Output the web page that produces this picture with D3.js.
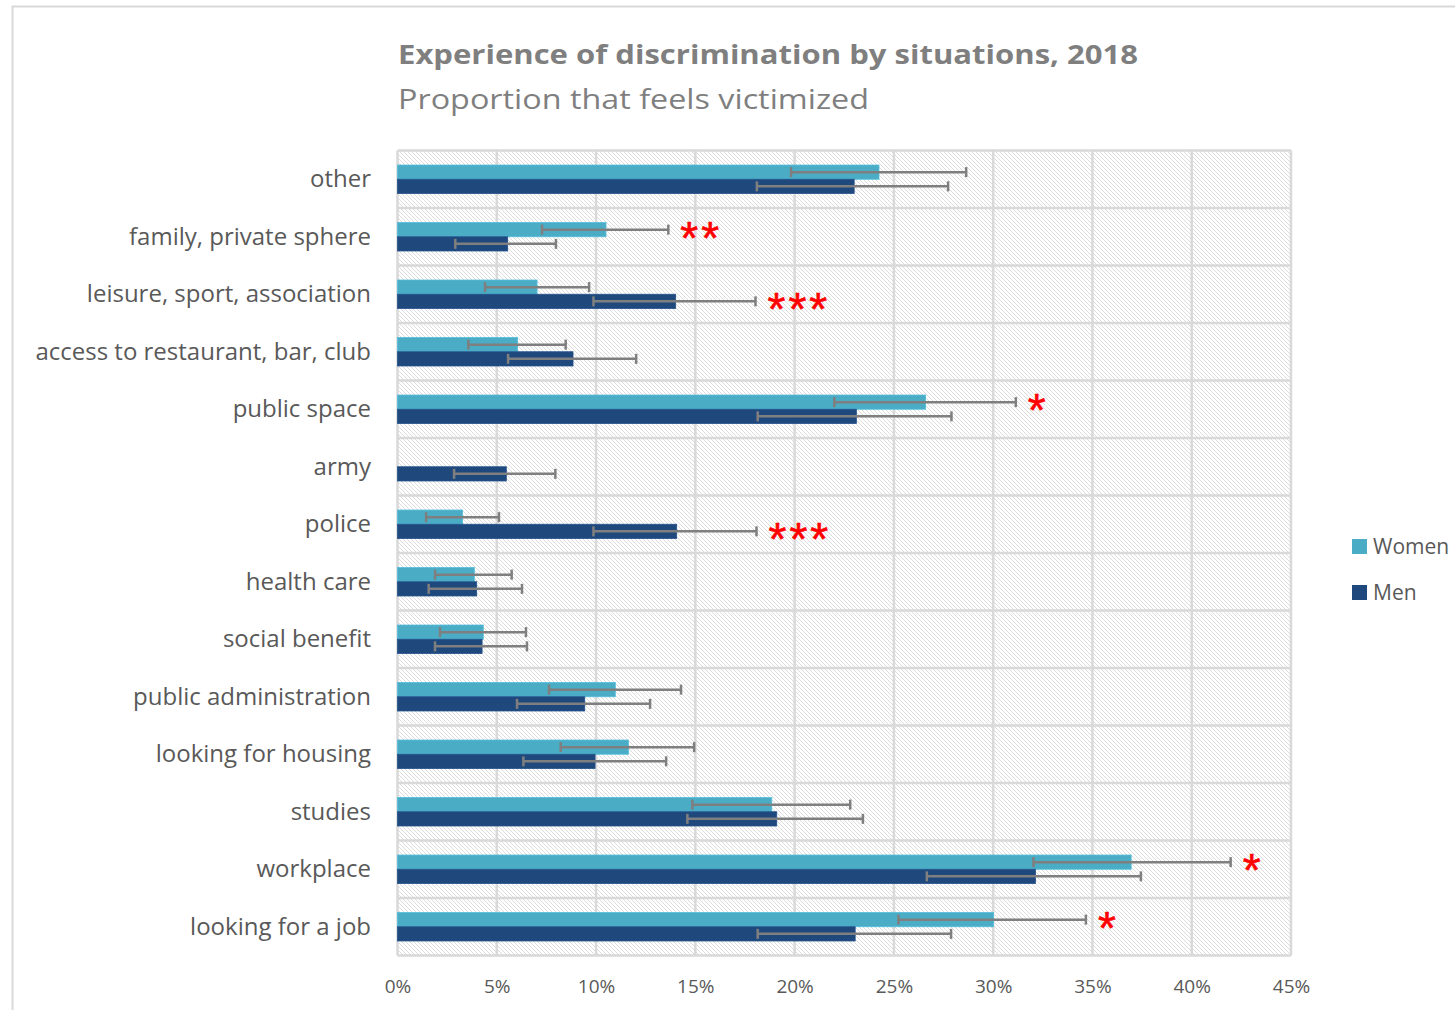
<!DOCTYPE html>
<html>
<head>
<meta charset="utf-8">
<script src="https://cdn.jsdelivr.net/npm/d3@7"></script>
<style>
  html, body { margin: 0; padding: 0; background: #fff; }
  svg { display: block; }
</style>
</head>
<body>
<svg id="chart" width="1455" height="1010"></svg>
<script>
const categories = ["other", "family, private sphere", "leisure, sport, association", "access to restaurant, bar, club", "public space", "army", "police", "health care", "social benefit", "public administration", "looking for housing", "studies", "workplace", "looking for a job"];
const seriesNames = ["Women", "Men"];
const women     = [24.25, 10.5, 7.03, 6.05, 26.6, null, 3.28, 3.87, 4.32, 10.97, 11.63, 18.85, 36.95, 30.02];
const womenLow  = [19.82, 7.28, 4.41, 3.57, 22.0, null, 1.44, 1.89, 2.14, 7.63, 8.22, 14.85, 32.03, 25.23];
const womenHigh = [28.64, 13.64, 9.65, 8.47, 31.14, null, 5.11, 5.75, 6.47, 14.28, 14.94, 22.8, 41.96, 34.67];
const men       = [23.0, 5.55, 14.01, 8.84, 23.11, 5.48, 14.06, 3.99, 4.26, 9.43, 9.95, 19.1, 32.13, 23.05];
const menLow    = [18.1, 2.91, 9.87, 5.57, 18.14, 2.85, 9.87, 1.57, 1.89, 6.02, 6.34, 14.6, 26.66, 18.14];
const menHigh   = [27.73, 7.98, 18.03, 12.02, 27.9, 7.95, 18.08, 6.27, 6.52, 12.72, 13.53, 23.44, 37.44, 27.88];
const significance = ["", "**", "***", "", "*", "", "***", "", "", "", "", "", "*", "*"];
const xTicks = [0, 5, 10, 15, 20, 25, 30, 35, 40, 45];
const titleText = "Experience of discrimination by situations, 2018";
const subtitleText = "Proportion that feels victimized";

const colors = { Women: "#4bacc6", Men: "#1f497d" };
const gridColor = "#d9d9d9";
const textColor = "#595959";

const svg = d3.select("#chart");

// outer chart border
svg.append("rect").attr("x", 12.5).attr("y", 6.5).attr("width", 1470).attr("height", 1030)
  .attr("fill", "#fff").attr("stroke", "#d9d9d9").attr("stroke-width", 2);

// hatch pattern
const defs = svg.append("defs");
const pat = defs.append("pattern").attr("id", "hatch").attr("patternUnits", "userSpaceOnUse")
  .attr("width", 4).attr("height", 4);
pat.append("rect").attr("width", 4).attr("height", 4).attr("fill", "#fff");
pat.append("path").attr("d", "M-1,-1 L5,5 M-1,3 L1,5 M3,-1 L5,1")
  .attr("stroke", "#dcdcdc").attr("stroke-width", 1);

const plot = { left: 397.5, right: 1291, top: 150.5, bottom: 955.5 };

const x = d3.scaleLinear().domain([0, 45]).range([plot.left, plot.right]);
const y = d3.scaleBand().domain(categories).range([plot.top, plot.bottom]).paddingInner(0).paddingOuter(0);
const ySub = d3.scaleBand().domain(seriesNames).range([0, y.bandwidth()]).paddingInner(0).paddingOuter(1.02);

// title
svg.append("text").attr("x", 398).attr("y", 64)
  .attr("font-family", "'Open Sans', sans-serif").attr("font-weight", "bold").attr("font-size", 27)
  .attr("fill", "#7f7f7f").attr("textLength", 740).attr("lengthAdjust", "spacingAndGlyphs")
  .text(titleText);
svg.append("text").attr("x", 398).attr("y", 109)
  .attr("font-family", "'Open Sans', sans-serif").attr("font-size", 27)
  .attr("fill", "#7f7f7f").attr("textLength", 471).attr("lengthAdjust", "spacingAndGlyphs")
  .text(subtitleText);

// plot background
svg.append("rect").attr("x", plot.left).attr("y", plot.top)
  .attr("width", plot.right - plot.left).attr("height", plot.bottom - plot.top)
  .attr("fill", "url(#hatch)");

// vertical grid
svg.append("g").selectAll("line").data(xTicks).join("line")
  .attr("x1", d => x(d)).attr("x2", d => x(d))
  .attr("y1", plot.top).attr("y2", plot.bottom)
  .attr("stroke", gridColor).attr("stroke-width", 2.5);

// horizontal grid at category boundaries
const bounds = categories.map(c => y(c)).concat([plot.bottom]);
svg.append("g").selectAll("line").data(bounds).join("line")
  .attr("x1", plot.left).attr("x2", plot.right)
  .attr("y1", d => d).attr("y2", d => d)
  .attr("stroke", gridColor).attr("stroke-width", 2.5);

// data rows
const rows = categories.map((c, i) => ({
  cat: c,
  items: [
    { s: "Women", v: women[i], lo: womenLow[i], hi: womenHigh[i] },
    { s: "Men", v: men[i], lo: menLow[i], hi: menHigh[i] }
  ],
  sig: significance[i]
}));

const g = svg.append("g").selectAll("g").data(rows).join("g")
  .attr("transform", d => `translate(0,${y(d.cat)})`);

// bars
g.selectAll("rect.bar").data(d => d.items.filter(e => e.v != null)).join("rect")
  .attr("class", "bar")
  .attr("x", x(0)).attr("y", d => ySub(d.s))
  .attr("width", d => x(d.v) - x(0)).attr("height", ySub.bandwidth())
  .attr("fill", d => colors[d.s])
  .attr("stroke", d => d3.color(colors[d.s]).brighter(0.3)).attr("stroke-width", 0.8);

// error bars
const eb = g.selectAll("g.err").data(d => d.items.filter(e => e.v != null)).join("g").attr("class", "err")
  .attr("transform", d => `translate(0,${ySub(d.s) + ySub.bandwidth() / 2})`);
eb.append("line").attr("x1", d => x(d.lo)).attr("x2", d => x(d.hi)).attr("y1", 0).attr("y2", 0)
  .attr("stroke", "#7f7f7f").attr("stroke-width", 2.5);
eb.append("line").attr("x1", d => x(d.lo)).attr("x2", d => x(d.lo)).attr("y1", -5).attr("y2", 5)
  .attr("stroke", "#7f7f7f").attr("stroke-width", 2.5);
eb.append("line").attr("x1", d => x(d.hi)).attr("x2", d => x(d.hi)).attr("y1", -5).attr("y2", 5)
  .attr("stroke", "#7f7f7f").attr("stroke-width", 2.5);

// significance stars
g.filter(d => d.sig).append("text")
  .attr("x", d => x(d3.max(d.items.filter(e => e.v != null), e => e.hi)) + 12)
  .attr("y", d => {
    const top = d.items.filter(e => e.v != null).reduce((a, b) => (b.hi > a.hi ? b : a));
    return ySub(top.s) + ySub.bandwidth() / 2 + 24;
  })
  .attr("font-family", "'Liberation Sans', sans-serif").attr("font-size", 46)
  .attr("fill", "#ff0000").attr("stroke", "#ff0000").attr("stroke-width", 0.6).attr("letter-spacing", 3)
  .text(d => d.sig);

// category labels
svg.append("g").selectAll("text").data(categories).join("text")
  .attr("x", 371).attr("y", d => y(d) + y.bandwidth() / 2)
  .attr("dy", "0.33em").attr("text-anchor", "end")
  .attr("font-family", "'Open Sans', sans-serif").attr("font-size", 24)
  .attr("fill", textColor).text(d => d);

// x axis tick labels
const xAxis = d3.axisBottom(x).tickValues(xTicks).tickFormat(d => d + "%").tickSize(0).tickPadding(0);
const ax = svg.append("g").attr("transform", `translate(0,${plot.bottom})`).call(xAxis);
ax.select(".domain").remove();
ax.selectAll("text").attr("y", 31).attr("dy", "0.36em")
  .attr("font-family", "'Open Sans', sans-serif").attr("font-size", 19).attr("fill", textColor);

// legend
const lg = svg.append("g").selectAll("g").data(seriesNames).join("g")
  .attr("transform", (d, i) => `translate(1352,${539 + i * 46})`);
lg.append("rect").attr("width", 15).attr("height", 15).attr("fill", d => colors[d]);
lg.append("text").attr("x", 21).attr("y", 7.5).attr("dy", "0.36em")
  .attr("font-family", "'Open Sans', sans-serif").attr("font-size", 21)
  .attr("fill", textColor).text(d => d);
</script>
</body>
</html>
